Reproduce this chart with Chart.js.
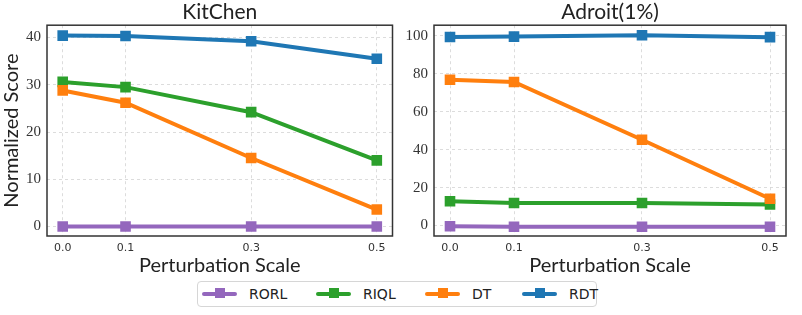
<!DOCTYPE html>
<html>
<head>
<meta charset="utf-8">
<script src="https://cdn.jsdelivr.net/npm/chart.js@4"></script>
<style>
  body { margin: 0; background: #fff; width: 802px; height: 315px; overflow: hidden; position: relative; }
  .box { position: absolute; top: 0; height: 278px; }
  #leftBox { left: 0; width: 400px; }
  #rightBox { left: 400px; width: 402px; }
  .legend {
    position: absolute; left: 197px; top: 281px; width: 400px; height: 26px;
    border: 1px solid #d6d6d6; border-radius: 4px; box-sizing: border-box;
    font-family: "DejaVu Sans", sans-serif; font-size: 14px; color: #222;
  }
  .item { position: absolute; top: 0; height: 24px; line-height: 24px; }
  .swatch { position: absolute; top: 10px; width: 35px; height: 4px; border-radius: 2px; }
  .swatch i { position: absolute; left: 13px; top: -4px; width: 10px; height: 10px; }
  .label { position: absolute; white-space: nowrap; }
</style>
</head>
<body>
<div class="box" id="leftBox"><canvas id="chart"></canvas></div>
<div class="box" id="rightBox"><canvas id="chart2"></canvas></div>
<div class="legend" id="legend"></div>

<script>
// x values (perturbation scale) and method names
const scaleValues = [0.0, 0.1, 0.3, 0.5];
const methods = ['RORL', 'RIQL', 'DT', 'RDT'];
const colors = ['#9467bd', '#2ca02c', '#ff7f0e', '#1f77b4'];

// KitChen scores
const kitchenRORL = [0, 0, 0, 0];
const kitchenRIQL = [30.6, 29.5, 24.2, 14.0];
const kitchenDT = [28.8, 26.2, 14.5, 3.6];
const kitchenRDT = [40.4, 40.3, 39.2, 35.5];

// Adroit(1%) scores
const adroitRORL = [-0.4, -0.6, -0.6, -0.6];
const adroitRIQL = [12.8, 11.9, 11.9, 11.1];
const adroitDT = [76.8, 75.6, 45.2, 14.1];
const adroitRDT = [99.3, 99.5, 100.2, 99.2];

// tick labels
const kitchenTicks = [0, 10, 20, 30, 40];
const adroitTicks = [0, 20, 40, 60, 80, 100];

// box around the plot area, like the matplotlib spines
const framePlugin = {
  id: 'frame',
  beforeDatasetsDraw(chart) {
    const a = chart.chartArea;
    const ctx = chart.ctx;
    ctx.save();
    ctx.strokeStyle = '#333';
    ctx.lineWidth = 1.5;
    ctx.strokeRect(a.left, a.top, a.right - a.left, a.bottom - a.top);
    ctx.restore();
  }
};

function createChart(canvas, title, series, yTicks, yMin, yMax, yWidth, showYTitle, padRight) {
  const datasets = series.map((vals, i) => ({
    label: methods[i],
    data: vals.map((v, j) => ({ x: scaleValues[j], y: v })),
    borderColor: colors[i],
    backgroundColor: colors[i],
    borderWidth: 4,
    pointStyle: 'rect',
    pointRadius: 7.5,
    pointBorderWidth: 0,
    showLine: true,
    order: 3 - i
  }));
  new Chart(canvas, {
    type: 'scatter',
    data: { datasets: datasets },
    plugins: [framePlugin],
    options: {
      responsive: true,
      maintainAspectRatio: false,
      animation: false,
      layout: { padding: { left: 0, right: padRight, top: 0, bottom: 0 } },
      plugins: {
        legend: { display: false },
        tooltip: { enabled: false },
        title: {
          display: true,
          fullSize: false,
          text: title,
          color: '#222',
          font: { family: 'Lato', size: 21, weight: 'normal' },
          padding: { top: 0, bottom: 0 }
        }
      },
      scales: {
        x: {
          type: 'linear',
          min: -0.025,
          max: 0.525,
          afterBuildTicks: s => { s.ticks = scaleValues.map(v => ({ value: v })); },
          afterFit: s => { s.height = 42; },
          ticks: {
            callback: v => v.toFixed(1),
            color: '#333',
            font: { family: 'DejaVu Sans', size: 11 },
            padding: 6,
            maxRotation: 0
          },
          grid: { color: '#d4d4d4', lineWidth: 0.8, drawTicks: false },
          border: { display: false, dash: [3, 3] },
          title: {
            display: true,
            text: 'Perturbation Scale',
            color: '#222',
            font: { family: 'Lato', size: 20 },
            padding: { top: 0, bottom: 0 }
          }
        },
        y: {
          min: yMin,
          max: yMax,
          afterBuildTicks: s => { s.ticks = yTicks.map(v => ({ value: v })); },
          afterFit: s => { s.width = yWidth; },
          ticks: {
            color: '#333',
            font: { family: 'Liberation Serif', size: 15 },
            padding: 6
          },
          grid: { color: '#d4d4d4', lineWidth: 0.8, drawTicks: false },
          border: { display: false, dash: [3, 3] },
          title: {
            display: showYTitle,
            text: 'Normalized Score',
            color: '#222',
            font: { family: 'Lato', size: 20 },
            padding: { top: 0, bottom: 2 }
          }
        }
      }
    }
  });
}

createChart(document.querySelector('#chart'), 'KitChen',
  [kitchenRORL, kitchenRIQL, kitchenDT, kitchenRDT], kitchenTicks, -2.0, 42.6, 47, true, 1);
createChart(document.querySelector('#chart2'), 'Adroit(1%)',
  [adroitRORL, adroitRIQL, adroitDT, adroitRDT], adroitTicks, -5.5, 105.5, 34, false, 16);

// legend below both panels
const legendLeft = [4, 118, 227, 324];
const legend = document.querySelector('#legend');
methods.forEach((m, i) => {
  const item = document.createElement('div');
  item.className = 'item';
  item.style.left = legendLeft[i] + 'px';
  item.innerHTML = '<div class="swatch" style="background:' + colors[i] + '"><i style="background:' + colors[i] + '"></i></div>' +
    '<span class="label" style="left:47px">' + m + '</span>';
  legend.appendChild(item);
});
</script>
</body>
</html>
